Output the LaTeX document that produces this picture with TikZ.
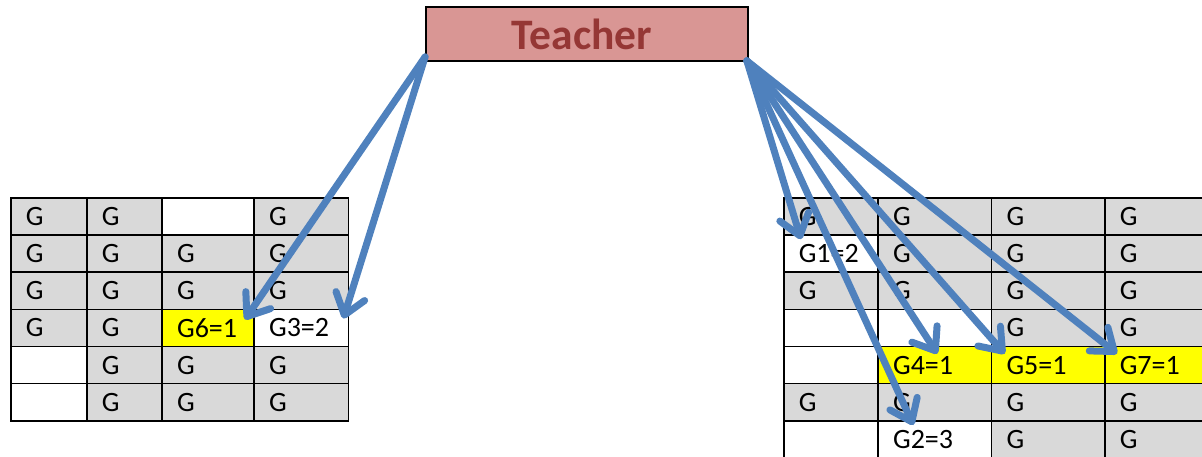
\documentclass[tikz,border=0pt]{standalone}
\usepackage{fontspec}
\setmainfont{Carlito}
\usetikzlibrary{arrows.meta}
\definecolor{cellgray}{HTML}{D9D9D9}
\definecolor{cellyellow}{HTML}{FFFF00}
\definecolor{arrowblue}{HTML}{4F81BD}
\definecolor{teacherfill}{HTML}{D99694}
\definecolor{teachertext}{HTML}{953735}
\tikzset{
  cell/.style={draw=black, line width=1.6pt, anchor=north west, inner xsep=15pt, inner ysep=0pt,
    minimum height=37.3pt, align=left, font=\fontsize{28}{28}\selectfont},
  gcell/.style={cell, fill=cellgray},
  ycell/.style={cell, fill=cellyellow},
  wcell/.style={cell, fill=white},
  cw/.style={text width=#1pt-30pt},
  teacherbox/.style={draw=black, line width=1.8pt, fill=teacherfill, minimum width=322pt, minimum height=54pt,
    inner sep=0pt, text=teachertext, font=\fontsize{43.5}{43.5}\selectfont\bfseries},
  link/.style={draw=arrowblue, line width=7pt, line cap=round,
    -{Straight Barb[length=20pt,width=30pt,round]}}
}
\begin{document}
\begin{tikzpicture}[x=1pt,y=-1pt]
\useasboundingbox (0,0) rectangle (1202,457);
\clip (0,0) rectangle (1202,457);
% Teacher
\node[teacherbox] (T) at (587,34) {\hspace*{-10pt}Teacher};
% Left grid: columns 10, 86, 161.3, 253.3, 347.7 ; rows from 197 step 37.17
% row 1
\node[gcell,cw=76]   (L11) at (10,197) {G};
\node[gcell,cw=75.3] (L12) at (86,197) {G};
\node[wcell,cw=92]   (L13) at (161.3,197) {};
\node[gcell,cw=94.4] (L14) at (253.3,197) {G};
% row 2
\node[gcell,cw=76]   (L21) at (10,234.2) {G};
\node[gcell,cw=75.3] (L22) at (86,234.2) {G};
\node[gcell,cw=92]   (L23) at (161.3,234.2) {G};
\node[gcell,cw=94.4] (L24) at (253.3,234.2) {G};
% row 3
\node[gcell,cw=76]   (L31) at (10,271.3) {G};
\node[gcell,cw=75.3] (L32) at (86,271.3) {G};
\node[gcell,cw=92]   (L33) at (161.3,271.3) {G};
\node[gcell,cw=94.4] (L34) at (253.3,271.3) {G};
% row 4
\node[gcell,cw=76]   (L41) at (10,308.5) {G};
\node[gcell,cw=75.3] (L42) at (86,308.5) {G};
\node[ycell,cw=92]   (L43) at (161.3,308.5) {G6=1};
\node[wcell,cw=94.4] (L44) at (253.3,308.5) {G3=2};
% row 5
\node[wcell,cw=76]   (L51) at (10,345.7) {};
\node[gcell,cw=75.3] (L52) at (86,345.7) {G};
\node[gcell,cw=92]   (L53) at (161.3,345.7) {G};
\node[gcell,cw=94.4] (L54) at (253.3,345.7) {G};
% row 6
\node[wcell,cw=76]   (L61) at (10,382.8) {};
\node[gcell,cw=75.3] (L62) at (86,382.8) {G};
\node[gcell,cw=92]   (L63) at (161.3,382.8) {G};
\node[gcell,cw=94.4] (L64) at (253.3,382.8) {G};
% Right grid: columns 783, 877.3, 990.7, 1104, 1217
% row 1
\node[gcell,cw=94.3]  (R11) at (783,197) {G};
\node[gcell,cw=113.4] (R12) at (877.3,197) {G};
\node[gcell,cw=113.3] (R13) at (990.7,197) {G};
\node[gcell,cw=113]   (R14) at (1104,197) {G};
% row 2
\node[wcell,cw=94.3]  (R21) at (783,234.2) {G1=2};
\node[gcell,cw=113.4] (R22) at (877.3,234.2) {G};
\node[gcell,cw=113.3] (R23) at (990.7,234.2) {G};
\node[gcell,cw=113]   (R24) at (1104,234.2) {G};
% row 3
\node[gcell,cw=94.3]  (R31) at (783,271.3) {G};
\node[gcell,cw=113.4] (R32) at (877.3,271.3) {G};
\node[gcell,cw=113.3] (R33) at (990.7,271.3) {G};
\node[gcell,cw=113]   (R34) at (1104,271.3) {G};
% row 4
\node[wcell,cw=94.3]  (R41) at (783,308.5) {};
\node[wcell,cw=113.4] (R42) at (877.3,308.5) {};
\node[gcell,cw=113.3] (R43) at (990.7,308.5) {G};
\node[gcell,cw=113]   (R44) at (1104,308.5) {G};
% row 5
\node[wcell,cw=94.3]  (R51) at (783,345.7) {};
\node[ycell,cw=113.4] (R52) at (877.3,345.7) {G4=1};
\node[ycell,cw=113.3] (R53) at (990.7,345.7) {G5=1};
\node[ycell,cw=113]   (R54) at (1104,345.7) {G7=1};
% row 6
\node[gcell,cw=94.3]  (R61) at (783,382.8) {G};
\node[gcell,cw=113.4] (R62) at (877.3,382.8) {G};
\node[gcell,cw=113.3] (R63) at (990.7,382.8) {G};
\node[gcell,cw=113]   (R64) at (1104,382.8) {G};
% row 7
\node[wcell,cw=94.3]  (R71) at (783,420) {};
\node[wcell,cw=113.4] (R72) at (877.3,420) {G2=3};
\node[gcell,cw=113.3] (R73) at (990.7,420) {G};
\node[gcell,cw=113]   (R74) at (1104,420) {G};
% Arrows
\draw[link] ([shift={(0,-5)}]T.south west) -- ([shift={(-10,11)}]L43.north east);
\draw[link] ([shift={(0,-5)}]T.south west) -- ([shift={(-6,10)}]L44.north east);
\draw[link] ([shift={(-2,-1)}]T.south east) -- ([shift={(18,5)}]R21.north west);
\draw[link] ([shift={(-2,-1)}]T.south east) -- ([shift={(36,5)}]R72.north west);
\draw[link] ([shift={(-2,-1)}]T.south east) -- ([shift={(60,8)}]R52.north west);
\draw[link] ([shift={(-2,-1)}]T.south east) -- ([shift={(14,8)}]R53.north west);
\draw[link] ([shift={(-2,-1)}]T.south east) -- ([shift={(13,8)}]R54.north west);
\end{tikzpicture}
\end{document}
